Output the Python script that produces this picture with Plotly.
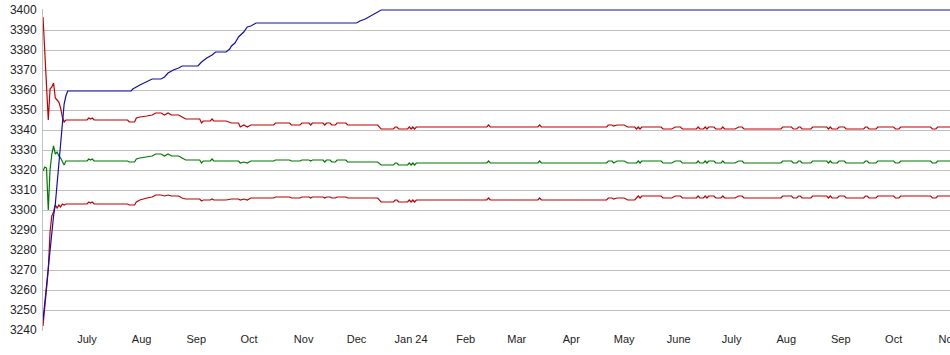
import plotly.graph_objects as go

# ---------------- data ----------------
blue_dates = ["2023-06-06", "2023-06-07", "2023-06-08", "2023-06-09", "2023-06-10", "2023-06-11",
              "2023-06-12", "2023-06-13", "2023-06-14", "2023-06-15", "2023-06-16", "2023-06-17",
              "2023-06-18", "2023-06-19", "2023-06-20", "2023-07-26", "2023-07-27", "2023-07-31",
              "2023-08-04", "2023-08-07", "2023-08-12", "2023-08-14", "2023-08-16", "2023-08-19",
              "2023-08-22", "2023-08-24", "2023-09-02", "2023-09-04", "2023-09-07", "2023-09-10",
              "2023-09-12", "2023-09-18", "2023-09-20", "2023-09-21", "2023-09-23", "2023-09-25",
              "2023-09-28", "2023-09-30", "2023-10-02", "2023-10-05", "2023-12-01", "2023-12-03",
              "2023-12-06", "2023-12-09", "2023-12-12", "2023-12-15", "2024-11-10"]
blue_vals = [3245, 3252, 3262, 3271, 3280, 3289, 3297, 3303, 3313, 3324, 3333, 3345,
             3353, 3357, 3359.5, 3359.5, 3360.5, 3362.5,
             3364, 3365.5, 3365.5, 3366.5, 3368.5, 3370,
             3371, 3372, 3372, 3374, 3376, 3377.5,
             3379, 3379, 3380.5, 3382, 3383.5, 3386.5,
             3389, 3391.5, 3392, 3393.5, 3393.5, 3394.5,
             3395.5, 3397, 3398.5, 3400, 3400]

early_dates = ["2023-06-06", "2023-06-07", "2023-06-08", "2023-06-09", "2023-06-10", "2023-06-11",
               "2023-06-12", "2023-06-13", "2023-06-14", "2023-06-15", "2023-06-16", "2023-06-17",
               "2023-06-18", "2023-06-19",
               "2023-07-01", "2023-07-02", "2023-07-03", "2023-07-04", "2023-07-05", "2023-07-24",
               "2023-07-25", "2023-07-28", "2023-07-29", "2023-07-31",
               "2023-08-04", "2023-08-07", "2023-08-09", "2023-08-12", "2023-08-14", "2023-08-16",
               "2023-08-18", "2023-08-22", "2023-08-24", "2023-08-26",
               "2023-09-03", "2023-09-04", "2023-09-05", "2023-09-09", "2023-09-10", "2023-09-11",
               "2023-09-18", "2023-09-21", "2023-09-25", "2023-09-26", "2023-09-28", "2023-09-30",
               "2023-10-02", "2023-10-15", "2023-10-16", "2023-10-24", "2023-10-25", "2023-10-30",
               "2023-10-31",
               "2023-11-04", "2023-11-05", "2023-11-06", "2023-11-12", "2023-11-13", "2023-11-14",
               "2023-11-16", "2023-11-17", "2023-11-19", "2023-11-20", "2023-11-25", "2023-11-26",
               "2023-12-13", "2023-12-15", "2023-12-22", "2023-12-23", "2023-12-24", "2023-12-25",
               "2023-12-30", "2023-12-31", "2024-01-01", "2024-01-02", "2024-01-03"]

upper_early = [3396.5, 3381, 3360, 3345, 3360.5, 3361.5,
               3363.5, 3356, 3355, 3354, 3351, 3346.5,
               3344, 3345,
               3345, 3346, 3345.5, 3346, 3345, 3345,
               3344, 3344, 3346, 3346.5,
               3347, 3347.5, 3348.5, 3348.5, 3347.5, 3348.5,
               3347.5, 3347.5, 3346.5, 3345.5,
               3345.5, 3343.5, 3344.5, 3344.5, 3345.5, 3344.5,
               3344.5, 3343.5, 3343.5, 3341.5, 3342.5, 3341.5,
               3342.5, 3342.5, 3343.5, 3343.5, 3342.5, 3342.5,
               3343.5,
               3343.5, 3342.5, 3343.5, 3343.5, 3342.5, 3343.5,
               3343.5, 3342.5, 3342.5, 3343.5, 3343.5, 3342.5,
               3342.5, 3340.5, 3340.5, 3341.5, 3341.5, 3340.5,
               3340.5, 3341.5, 3340.5, 3341.5, 3340.5]

mid_early = [3319.5, 3321.5, 3321, 3300, 3320, 3328,
             3332, 3328, 3329, 3327, 3326, 3324,
             3322.5, 3324.5,
             3324.5, 3325.5, 3325, 3325.5, 3324.5, 3324.5,
             3324, 3324, 3325.5, 3326,
             3326.5, 3327, 3328, 3328, 3327, 3328,
             3327, 3327, 3326, 3325,
             3325, 3323.5, 3324.5, 3324.5, 3325.5, 3324.5,
             3324.5, 3324.5, 3324.5, 3323.5, 3324, 3323.5,
             3324.5, 3324.5, 3325, 3325, 3324.5, 3324.5,
             3325,
             3325, 3324.5, 3325, 3325, 3324, 3325,
             3325, 3324, 3324, 3325, 3325, 3324,
             3324, 3322.5, 3322.5, 3323.5, 3323.5, 3322.5,
             3322.5, 3323.5, 3322.5, 3323.5, 3322.5]

lower_early = [3242, 3251, 3259, 3270, 3289, 3297,
               3299, 3302.5, 3301, 3302.5, 3301.5, 3303,
               3302.5, 3303,
               3303, 3304, 3303.5, 3304, 3303, 3303,
               3302.5, 3302.5, 3304, 3305,
               3306, 3306.5, 3307.5, 3307.5, 3307, 3307.5,
               3307, 3307, 3306, 3305.5,
               3305.5, 3304.5, 3305, 3305, 3305.5, 3305,
               3305, 3305.5, 3305.5, 3305, 3305.5, 3305,
               3306, 3306, 3306.5, 3306.5, 3306, 3306,
               3306.5,
               3306.5, 3306, 3306.5, 3306.5, 3306, 3306.5,
               3306.5, 3306, 3306, 3306.5, 3306.5, 3306,
               3306, 3304, 3304, 3305, 3305, 3304,
               3304, 3305, 3304, 3305, 3304]

late_dates = ["2024-01-04", "2024-02-13", "2024-02-14", "2024-02-15", "2024-03-13", "2024-03-14",
              "2024-03-15", "2024-04-21", "2024-04-22", "2024-04-24", "2024-04-25", "2024-04-27",
              "2024-05-01", "2024-05-03", "2024-05-07", "2024-05-08", "2024-05-09", "2024-05-10",
              "2024-05-11", "2024-05-22", "2024-05-23", "2024-05-28", "2024-05-30", "2024-06-02",
              "2024-06-03", "2024-06-11", "2024-06-12", "2024-06-13", "2024-06-15", "2024-06-16",
              "2024-06-17", "2024-06-18", "2024-06-21", "2024-06-22", "2024-06-25", "2024-06-26",
              "2024-06-27", "2024-07-03", "2024-07-05", "2024-07-07", "2024-07-08", "2024-07-29",
              "2024-07-30", "2024-08-04", "2024-08-05", "2024-08-07", "2024-08-08", "2024-08-09",
              "2024-08-10", "2024-08-15", "2024-08-16", "2024-08-24", "2024-08-25", "2024-08-26",
              "2024-08-27", "2024-08-30", "2024-08-31", "2024-09-03", "2024-09-04", "2024-09-14",
              "2024-09-15", "2024-09-16", "2024-09-17", "2024-09-21", "2024-09-22", "2024-10-01",
              "2024-10-02", "2024-10-04", "2024-10-05", "2024-10-22", "2024-10-23", "2024-10-25",
              "2024-10-26", "2024-11-10"]

upper_late = [3341.5, 3341.5, 3342.5, 3341.5, 3341.5, 3342.5,
              3341.5, 3341.5, 3342.5, 3342.5, 3342, 3342.5,
              3342.5, 3341.5, 3341.5, 3340.5, 3341.5, 3340.5,
              3341.5, 3341.5, 3340.5, 3340.5, 3341.5, 3341.5,
              3340.5, 3340.5, 3341.5, 3340.5, 3340.5, 3341.5,
              3340.5, 3341.5, 3341.5, 3340.5, 3340.5, 3341.5,
              3340.5, 3340.5, 3341.5, 3341.5, 3340.5, 3340.5,
              3341.5, 3341.5, 3340.5, 3340.5, 3341.5, 3341.5,
              3340.5, 3340.5, 3341.5, 3341.5, 3340.5, 3341.5,
              3340.5, 3340.5, 3341.5, 3341.5, 3340.5, 3340.5,
              3341.5, 3341.5, 3340.5, 3340.5, 3341.5, 3341.5,
              3340.5, 3340.5, 3341.5, 3341.5, 3340.5, 3340.5,
              3341.5, 3341.5]

mid_late = [3323.5, 3323.5, 3324.5, 3323.5, 3323.5, 3324.5,
            3323.5, 3323.5, 3324.5, 3324.5, 3323.5, 3324.5,
            3324.5, 3323.5, 3323.5, 3323.5, 3324.5, 3323.5,
            3324.5, 3324.5, 3323.5, 3323.5, 3324.5, 3324.5,
            3323.5, 3323.5, 3324.5, 3323.5, 3323.5, 3324.5,
            3323.5, 3324.5, 3324.5, 3323.5, 3323.5, 3324.5,
            3323.5, 3323.5, 3324.5, 3324.5, 3323.5, 3323.5,
            3324.5, 3324.5, 3323.5, 3323.5, 3324.5, 3324.5,
            3323.5, 3323.5, 3324.5, 3324.5, 3323.5, 3324.5,
            3323.5, 3323.5, 3324.5, 3324.5, 3323.5, 3323.5,
            3324.5, 3324.5, 3323.5, 3323.5, 3324.5, 3324.5,
            3323.5, 3323.5, 3324.5, 3324.5, 3323.5, 3323.5,
            3324.5, 3324.5]

lower_late = [3305, 3305, 3306, 3305, 3305, 3306,
              3305, 3305, 3306, 3306, 3305.5, 3306,
              3306, 3305, 3305, 3306, 3307, 3306,
              3307, 3307, 3306, 3306, 3307, 3307,
              3306, 3306, 3307, 3306, 3306, 3307,
              3306, 3307, 3307, 3306, 3306, 3307,
              3306, 3306, 3307, 3307, 3306, 3306,
              3307, 3307, 3306, 3306, 3307, 3307,
              3306, 3306, 3307, 3307, 3306, 3307,
              3306, 3306, 3307, 3307, 3306, 3306,
              3307, 3307, 3306, 3306, 3307, 3307,
              3306, 3306, 3307, 3307, 3306, 3306,
              3307, 3307]

tick_dates = ["2023-07-01", "2023-08-01", "2023-09-01", "2023-10-01", "2023-11-01", "2023-12-01",
              "2024-01-01", "2024-02-01", "2024-03-01", "2024-04-01", "2024-05-01", "2024-06-01",
              "2024-07-01", "2024-08-01", "2024-09-01", "2024-10-01", "2024-11-01"]
tick_labels = ["July", "Aug", "Sep", "Oct", "Nov", "Dec", "Jan 24", "Feb", "Mar", "Apr", "May",
               "June", "July", "Aug", "Sep", "Oct", "Nov"]
y_ticks = [3240, 3250, 3260, 3270, 3280, 3290, 3300, 3310, 3320, 3330, 3340, 3350, 3360,
           3370, 3380, 3390, 3400]

# ---------------- figure ----------------
RED = "#c00000"
GREEN = "#007800"
BLUE = "#1010a8"

fig = go.Figure()
fig.add_trace(go.Scatter(x=early_dates + late_dates, y=lower_early + lower_late, mode="lines",
                         line=dict(color=RED, width=1.2), hoverinfo="skip"))
fig.add_trace(go.Scatter(x=early_dates + late_dates, y=mid_early + mid_late, mode="lines",
                         line=dict(color=GREEN, width=1.2), hoverinfo="skip"))
fig.add_trace(go.Scatter(x=early_dates + late_dates, y=upper_early + upper_late, mode="lines",
                         line=dict(color=RED, width=1.2), hoverinfo="skip"))
fig.add_trace(go.Scatter(x=blue_dates, y=blue_vals, mode="lines",
                         line=dict(color=BLUE, width=1.2), hoverinfo="skip"))

FONT = "Liberation Sans, Arial, sans-serif"
fig.update_layout(
    width=950, height=355,
    margin=dict(l=43, r=0, t=9, b=24, autoexpand=False),
    paper_bgcolor="white", plot_bgcolor="white",
    showlegend=False,
    font=dict(family=FONT, color="#222222"),
    xaxis=dict(type="date", range=["2023-06-06", "2024-11-02"],
               tickvals=tick_dates, ticktext=tick_labels, automargin=False,
               showgrid=False, zeroline=False, showline=False, ticks="",
               tickfont=dict(size=11, color="#222222", family=FONT),
               ticklabeloverflow="allow"),
    yaxis=dict(range=[3239.5, 3400.5], tickvals=y_ticks, automargin=False,
               showgrid=True, gridcolor="#c0c0c0", gridwidth=1,
               zeroline=False, showline=True, linecolor="#c0c0c0", linewidth=1,
               ticks="", ticklabelstandoff=3,
               tickfont=dict(size=12, color="#222222", family=FONT)),
)

fig.write_html("out.html")
